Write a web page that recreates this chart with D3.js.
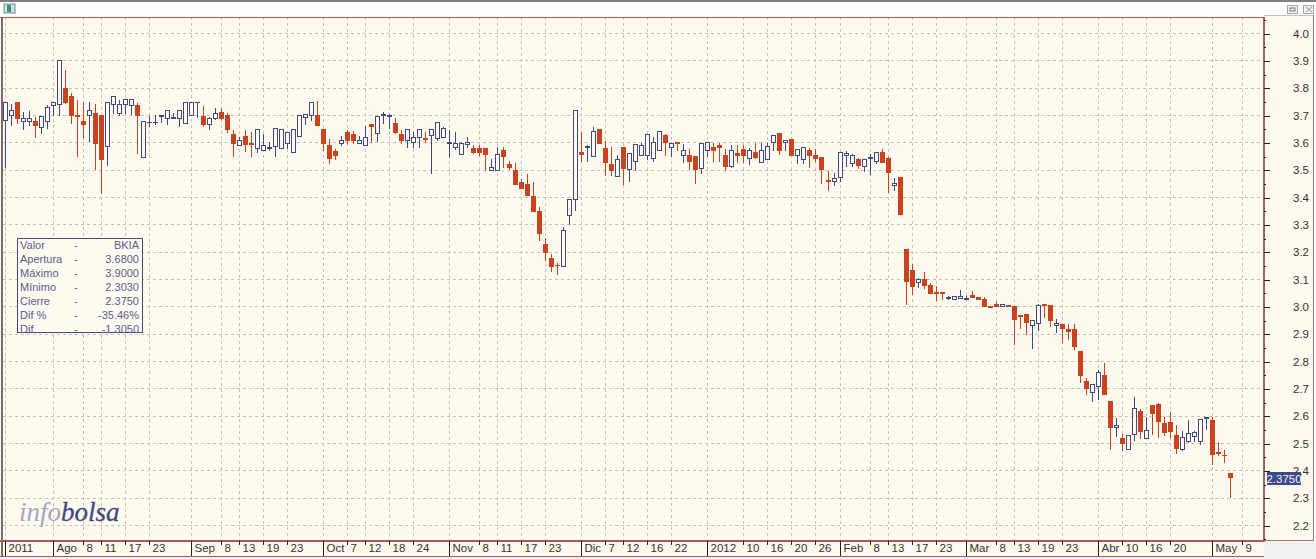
<!DOCTYPE html>
<html><head><meta charset="utf-8">
<script src="https://cdn.jsdelivr.net/npm/d3@7"></script>
<style>html,body{margin:0;padding:0;background:#fff;overflow:hidden}svg{display:block}text{font-family:"Liberation Sans",Arial,sans-serif}</style>
</head><body><div id="c"></div>
<script>
const opens=[3.68,3.700,3.747,3.677,3.677,3.678,3.656,3.678,3.736,3.74,
3.799,3.771,3.7,3.679,3.7,3.707,3.701,3.586,3.74,3.707,
3.74,3.736,3.736,3.546,3.673,3.673,3.698,3.689,3.688,3.689,
3.671,3.7,3.746,3.696,3.667,3.689,3.711,3.7,3.63,3.59,
3.623,3.597,3.579,3.572,3.581,3.586,3.579,3.597,3.564,3.623,
3.693,3.7,3.7,3.649,3.59,3.567,3.598,3.639,3.632,3.599,
3.591,3.668,3.635,3.7,3.697,3.672,3.632,3.61,3.601,3.621,
3.617,3.628,3.617,3.621,3.598,3.584,3.558,3.595,3.58,3.58,
3.58,3.5,3.5,3.573,3.522,3.5,3.456,3.449,3.405,3.35,
3.229,3.178,3.153,3.148,3.335,3.394,3.566,3.583,3.551,3.65,
3.58,3.522,3.478,3.583,3.501,3.53,3.552,3.552,3.541,3.571,
3.626,3.582,3.6,3.552,3.552,3.549,3.505,3.571,3.582,3.589,
3.552,3.512,3.56,3.574,3.541,3.563,3.527,3.538,3.6,3.633,
3.6,3.611,3.552,3.538,3.571,3.552,3.545,3.461,3.457,3.472,
3.552,3.523,3.538,3.512,3.544,3.53,3.563,3.541,3.443,3.472,
3.209,3.132,3.089,3.101,3.079,3.051,3.052,3.032,3.028,3.032,
3.027,3.04,3.033,3.028,3.001,3.01,3.0,3.004,3.0,2.968,
2.973,2.933,2.94,3.007,3.006,2.933,2.934,2.918,2.918,2.838,
2.728,2.688,2.71,2.75,2.653,2.56,2.52,2.479,2.534,2.618,
2.52,2.64,2.644,2.574,2.578,2.53,2.479,2.507,2.527,2.509,
2.592,2.585,2.467,2.457,2.39];
const highs=[3.746,3.744,3.747,3.716,3.718,3.697,3.696,3.741,3.747,3.9,
3.868,3.784,3.76,3.75,3.75,3.745,3.701,3.747,3.768,3.76,
3.758,3.758,3.747,3.678,3.699,3.704,3.7,3.718,3.711,3.718,
3.747,3.747,3.747,3.736,3.696,3.729,3.729,3.711,3.649,3.623,
3.649,3.641,3.649,3.633,3.606,3.652,3.649,3.638,3.649,3.7,
3.707,3.747,3.756,3.649,3.616,3.58,3.628,3.648,3.646,3.628,
3.662,3.668,3.698,3.716,3.706,3.694,3.65,3.65,3.641,3.65,
3.643,3.65,3.676,3.661,3.65,3.643,3.606,3.624,3.593,3.595,
3.58,3.544,3.588,3.588,3.537,3.529,3.471,3.489,3.46,3.368,
3.255,3.196,3.163,3.295,3.394,3.72,3.643,3.595,3.661,3.65,
3.61,3.588,3.558,3.583,3.56,3.593,3.6,3.629,3.622,3.64,
3.633,3.6,3.6,3.596,3.578,3.549,3.6,3.6,3.6,3.601,
3.578,3.593,3.593,3.593,3.584,3.6,3.6,3.6,3.626,3.633,
3.611,3.611,3.574,3.582,3.582,3.578,3.545,3.498,3.49,3.563,
3.571,3.56,3.545,3.538,3.56,3.563,3.578,3.549,3.472,3.476,
3.209,3.157,3.109,3.131,3.09,3.079,3.057,3.04,3.043,3.065,
3.043,3.061,3.039,3.039,3.006,3.021,3.01,3.01,3.004,2.97,
2.973,2.951,3.013,3.01,3.01,2.959,2.94,2.94,2.94,2.838,
2.743,2.721,2.77,2.798,2.655,2.596,2.538,2.533,2.673,2.629,
2.6,2.644,2.651,2.6,2.618,2.571,2.549,2.589,2.549,2.589,
2.6,2.6,2.509,2.479,2.395];
const lows=[3.508,3.662,3.669,3.647,3.664,3.618,3.633,3.651,3.699,3.699,
3.743,3.669,3.549,3.616,3.606,3.501,3.416,3.516,3.707,3.7,
3.707,3.702,3.56,3.546,3.66,3.666,3.673,3.666,3.688,3.658,
3.671,3.7,3.693,3.658,3.647,3.685,3.685,3.636,3.549,3.589,
3.567,3.549,3.563,3.571,3.571,3.549,3.579,3.578,3.564,3.623,
3.666,3.68,3.662,3.572,3.524,3.54,3.59,3.599,3.599,3.598,
3.591,3.601,3.605,3.672,3.654,3.635,3.599,3.584,3.584,3.584,
3.602,3.489,3.608,3.621,3.547,3.577,3.558,3.584,3.562,3.555,
3.499,3.5,3.5,3.511,3.504,3.449,3.434,3.407,3.35,3.244,
3.169,3.13,3.119,3.148,3.302,3.354,3.533,3.533,3.551,3.599,
3.482,3.482,3.478,3.447,3.457,3.499,3.552,3.539,3.53,3.571,
3.552,3.549,3.573,3.527,3.502,3.45,3.487,3.549,3.532,3.53,
3.499,3.509,3.527,3.527,3.519,3.541,3.527,3.538,3.571,3.556,
3.571,3.552,3.523,3.523,3.509,3.53,3.45,3.424,3.443,3.457,
3.512,3.512,3.505,3.494,3.483,3.523,3.527,3.417,3.424,3.336,
3.007,3.044,3.072,3.067,3.049,3.022,3.027,3.027,3.027,3.03,
3.027,3.033,3.027,3.0,2.999,3.0,3.0,3.0,2.862,2.921,
2.899,2.848,2.915,2.96,2.929,2.906,2.869,2.88,2.844,2.723,
2.678,2.654,2.661,2.679,2.478,2.526,2.474,2.479,2.512,2.52,
2.52,2.534,2.522,2.53,2.523,2.465,2.476,2.505,2.507,2.495,
2.552,2.423,2.457,2.432,2.303];
const closes=[3.746,3.718,3.688,3.689,3.689,3.662,3.696,3.729,3.747,3.9,
3.746,3.699,3.698,3.666,3.718,3.596,3.538,3.747,3.768,3.74,
3.758,3.758,3.699,3.678,3.675,3.675,3.7,3.718,3.692,3.718,
3.747,3.747,3.747,3.667,3.689,3.707,3.689,3.647,3.596,3.607,
3.594,3.594,3.649,3.59,3.583,3.652,3.649,3.638,3.649,3.7,
3.704,3.747,3.662,3.599,3.542,3.554,3.607,3.608,3.608,3.61,
3.621,3.66,3.698,3.702,3.699,3.639,3.608,3.65,3.621,3.65,
3.612,3.65,3.676,3.654,3.6,3.599,3.599,3.602,3.566,3.566,
3.558,3.511,3.558,3.551,3.511,3.449,3.434,3.407,3.35,3.268,
3.2,3.148,3.151,3.28,3.394,3.72,3.558,3.585,3.643,3.599,
3.529,3.5,3.54,3.506,3.56,3.593,3.589,3.629,3.6,3.64,
3.6,3.596,3.596,3.571,3.53,3.501,3.596,3.6,3.571,3.582,
3.512,3.571,3.552,3.552,3.571,3.545,3.571,3.585,3.626,3.571,
3.607,3.552,3.574,3.582,3.552,3.543,3.501,3.457,3.468,3.563,
3.56,3.552,3.516,3.538,3.546,3.563,3.527,3.49,3.45,3.336,
3.093,3.074,3.101,3.079,3.049,3.049,3.05,3.034,3.039,3.036,
3.029,3.034,3.028,3.0,2.999,3.0,3.01,3.0,2.955,2.966,
2.943,2.951,3.006,3.005,2.951,2.94,2.922,2.911,2.855,2.75,
2.7,2.717,2.761,2.679,2.559,2.567,2.501,2.53,2.628,2.545,
2.549,2.611,2.582,2.541,2.545,2.482,2.523,2.538,2.541,2.589,
2.594,2.461,2.465,2.455,2.375];
const dateIdx=[0,8,13,16,20,24,31,36,39,43,47,53,57,60,64,68,74,79,82,86,90,96,100,103,107,111,117,123,127,131,135,139,144,147,151,155,160,165,168,172,176,182,186,190,194,201,206];
const dateLabels=["2011","Ago","8","11","17","23","Sep","8","13","19","23","Oct","7","12","18","24","Nov","8","11","17","23","Dic","7","12","16","22","2012","10","16","20","26","Feb","8","13","17","23","Mar","8","13","19","23","Abr","10","16","20","May","9"];
const priceTicks=[2.2,2.3,2.4,2.5,2.6,2.7,2.8,2.9,3.0,3.1,3.2,3.3,3.4,3.5,3.6,3.7,3.8,3.9,4.0];
const minorTicks=[2.25,2.35,2.45,2.55,2.65,2.75,2.85,2.95,3.05,3.15,3.25,3.35,3.45,3.55,3.65,3.75,3.85,3.95,4.05,2.15];
const infoLabels=["Valor","Apertura","Máximo","Mínimo","Cierre","Dif %","Dif"];
const infoValues=["BKIA","3.6800","3.9000","2.3030","2.3750","-35.46%","-1.3050"];
const lastPrice="2.3750";

const W=1316,H=559;
const cream="#fffaf0",navy="#3f4a85",orange="#c8431e",gridC="#c6c3b6";
const svg=d3.select("#c").append("svg").attr("width",W).attr("height",H);
const x=d3.scaleLinear().domain([0,204]).range([5.33,1230.33]);
const y=d3.scaleLinear().domain([2.2,4.0]).range([525,33]);
const L=3,R=1264,T=17,B=541;
const px=i=>Math.floor(x(i))+0.5;
const py=v=>Math.round(y(v))+0.5;

// window chrome
svg.append("rect").attr("width",W).attr("height",H).attr("fill","#f0f0f0");
svg.append("rect").attr("width",W).attr("height",17).attr("fill","#fff");
svg.append("rect").attr("width",W).attr("height",2).attr("fill","#7f7f7f");
svg.append("rect").attr("x",4).attr("y",4).attr("width",11).attr("height",9).attr("fill","#cfe3e0").attr("stroke","#6d8f8c");
svg.append("rect").attr("x",7).attr("y",5).attr("width",4).attr("height",7).attr("fill","#3f8f7f");
[[1287,"#f0f0f0"],[1303,"#f0f0f0"]].forEach(b=>svg.append("rect").attr("x",b[0]+.5).attr("y",5.5).attr("width",10).attr("height",8).attr("fill",b[1]).attr("stroke","#a8a8a8"));
svg.append("rect").attr("x",1290).attr("y",8).attr("width",5).attr("height",3).attr("fill","none").attr("stroke","#777");
svg.append("path").attr("d","M1306 7L1312 12M1312 7L1306 12").attr("stroke","#999");

// panels
svg.append("rect").attr("x",0).attr("y",16).attr("width",1314).attr("height",525).attr("fill",cream);
svg.append("rect").attr("x",0).attr("y",541).attr("width",R).attr("height",16).attr("fill",cream);
svg.append("rect").attr("x",1314).attr("y",16).attr("width",2).attr("height",525).attr("fill","#fff");

// grid
const gridG=svg.append("g").attr("stroke",gridC).attr("stroke-dasharray","3,3").attr("shape-rendering","crispEdges");
gridG.selectAll(".h").data(priceTicks).join("line").attr("x1",L).attr("x2",R).attr("y1",d=>py(d)).attr("y2",d=>py(d));
gridG.selectAll(".v").data(dateIdx).join("line").attr("x1",d=>px(d)).attr("x2",d=>px(d)).attr("y1",T).attr("y2",B);

// candles
const rows=d3.range(opens.length).map(i=>({i,o:opens[i],h:highs[i],l:lows[i],c:closes[i]}));
const cG=svg.append("g").attr("shape-rendering","crispEdges");
const sel=cG.selectAll("g").data(rows).join("g").attr("stroke",d=>d.c>=d.o?navy:orange);
sel.append("line").attr("x1",d=>px(d.i)).attr("x2",d=>px(d.i)).attr("y1",d=>py(d.h)).attr("y2",d=>py(d.l));
sel.each(function(d){
  const g=d3.select(this),up=d.c>=d.o;
  const t=py(Math.max(d.o,d.c)),b=py(Math.min(d.o,d.c));
  if(b-t<1){g.append("line").attr("x1",px(d.i)-2.5).attr("x2",px(d.i)+2.5).attr("y1",t).attr("y2",t);return;}
  if(up)g.append("rect").attr("x",px(d.i)-2).attr("y",t).attr("width",4).attr("height",b-t).attr("fill",cream);
  else g.append("rect").attr("x",px(d.i)-2.5).attr("y",t-.5).attr("width",5).attr("height",b-t+1).attr("fill",orange).attr("stroke","none");
});

// frame
const fr=svg.append("g").attr("shape-rendering","crispEdges");
fr.append("rect").attr("x",0).attr("y",17).attr("width",R+1).attr("height",1).attr("fill","#a65a5a");
fr.append("rect").attr("x",1).attr("y",17).attr("width",2).attr("height",540).attr("fill","#7d6a6a");
fr.append("rect").attr("x",R-1).attr("y",17).attr("width",2).attr("height",525).attr("fill","#9a6464");
fr.append("rect").attr("x",0).attr("y",B-1).attr("width",R+1).attr("height",2).attr("fill","#a65a5a");
fr.append("rect").attr("x",0).attr("y",556).attr("width",R).attr("height",1).attr("fill","#a65a5a");
fr.append("rect").attr("x",R).attr("y",15).attr("width",50).attr("height",1).attr("fill","#d9b8b8");
fr.append("rect").attr("x",1313).attr("y",15).attr("width",1).attr("height",526).attr("fill","#a67a7a");
fr.append("rect").attr("x",R).attr("y",540).attr("width",50).attr("height",1).attr("fill","#a67a7a");

// right axis
const yAxis=d3.axisRight(y).tickValues(priceTicks).tickFormat(d3.format(".1f")).tickSize(6).tickPadding(23);
const ya=svg.append("g").attr("transform",`translate(${R},0.5)`).call(yAxis);
ya.select(".domain").remove();
ya.selectAll("line").attr("stroke","#222").attr("shape-rendering","crispEdges");
ya.selectAll("text").attr("fill","#333").attr("font-size",11.5).attr("font-family",'"Liberation Sans"');
const yMinor=d3.axisRight(y).tickValues(minorTicks.filter(v=>y(v)>T&&y(v)<B)).tickFormat("").tickSize(2);
const ym=svg.append("g").attr("transform",`translate(${R},0.5)`).call(yMinor);
ym.select(".domain").remove();
ym.selectAll("line").attr("stroke","#222").attr("shape-rendering","crispEdges");

// bottom axis
const labelOf=new Map(dateIdx.map((d,k)=>[d,dateLabels[k]]));
const xAxis=d3.axisBottom(x).tickValues(dateIdx).tickFormat(d=>labelOf.get(d)).tickSize(4);
const xa=svg.append("g").attr("transform",`translate(0,${B})`).call(xAxis);
xa.select(".domain").remove();
xa.selectAll(".tick").attr("transform",d=>`translate(${px(d)},0)`);
xa.selectAll("line").attr("stroke","#222").attr("shape-rendering","crispEdges").attr("y2",d=>/\D/.test(labelOf.get(d))||labelOf.get(d).length===4?15:4);
xa.selectAll("text").attr("fill","#333").attr("font-size",11.5).attr("font-family",'"Liberation Sans"').attr("text-anchor","start").attr("x",3).attr("y",3).attr("dy","0.71em");

// last price tag
svg.append("rect").attr("x",1267).attr("y",472).attr("width",34).attr("height",13).attr("fill","#3c4a8a");
svg.append("text").attr("x",1284).attr("y",482.5).attr("text-anchor","middle").attr("fill","#f4f4ff").attr("font-size",11.5).text(lastPrice);

// info box
const ib=svg.append("g");
ib.append("rect").attr("x",17.5).attr("y",238.5).attr("width",125).attr("height",94).attr("fill",cream).attr("stroke",navy).attr("shape-rendering","crispEdges");
const rowY=d3.scalePoint().domain(d3.range(infoLabels.length)).range([249,333]);
const ic="#55608f";
infoLabels.forEach((t,k)=>{
  ib.append("text").attr("x",20).attr("y",rowY(k)).attr("fill",ic).attr("font-size",11).text(t);
  ib.append("text").attr("x",74).attr("y",rowY(k)).attr("fill",ic).attr("font-size",11).text("-");
  ib.append("text").attr("x",139).attr("y",rowY(k)).attr("text-anchor","end").attr("fill",ic).attr("font-size",11).text(infoValues[k]);
});

// logo
const lg=svg.append("text").attr("x",19).attr("y",521).attr("font-size",27).attr("font-style","italic").style("font-family",'"Liberation Serif",serif');
lg.append("tspan").attr("fill","#a3a8bd").text("info");
lg.append("tspan").attr("fill","#3f4a7c").attr("stroke","#3f4a7c").attr("stroke-width",0.3).text("bolsa");
</script></body></html>
